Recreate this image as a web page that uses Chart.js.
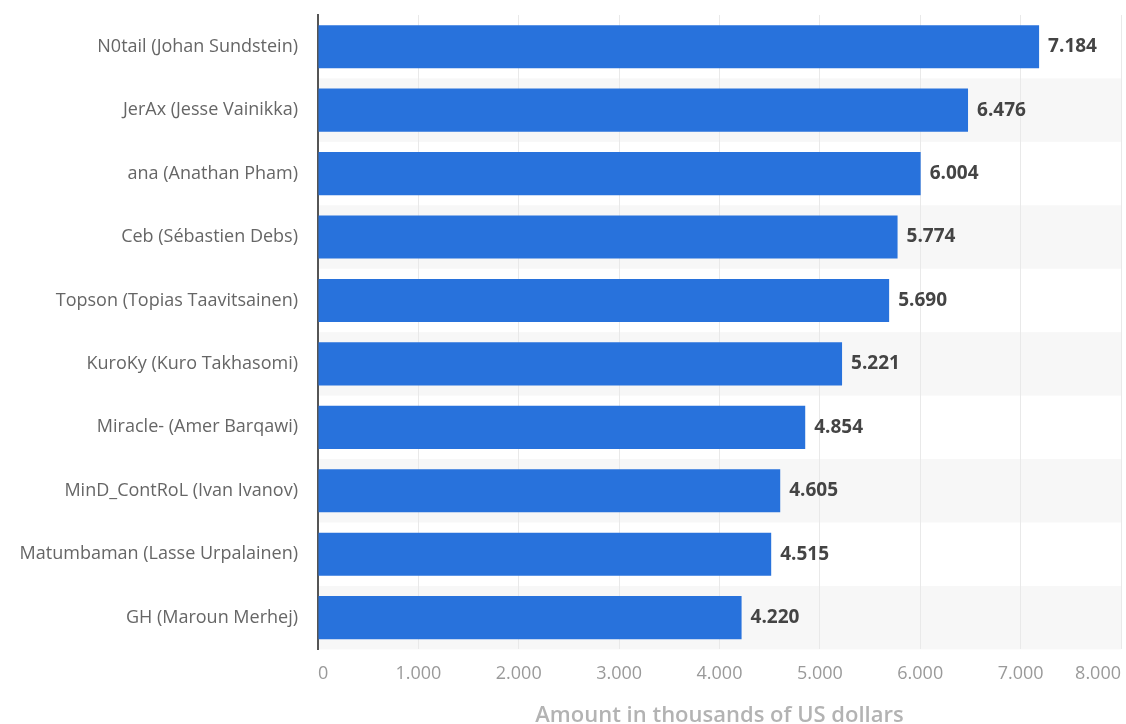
<!DOCTYPE html>
<html>
<head>
<meta charset="utf-8">
<script src="https://cdn.jsdelivr.net/npm/chart.js@4/dist/chart.umd.min.js"></script>
<style>
  html, body { margin: 0; padding: 0; background: #fff; overflow: hidden; }
  #wrap { width: 1126px; height: 724px; position: relative; }
</style>
</head>
<body>
<div id="wrap"><canvas id="chart"></canvas></div>
<script>
// players and their earnings (thousands of US dollars)
const players = [
    "N0tail (Johan Sundstein)",
    "JerAx (Jesse Vainikka)",
    "ana (Anathan Pham)",
    "Ceb (Sébastien Debs)",
    "Topson (Topias Taavitsainen)",
    "KuroKy (Kuro Takhasomi)",
    "Miracle- (Amer Barqawi)",
    "MinD_ContRoL (Ivan Ivanov)",
    "Matumbaman (Lasse Urpalainen)",
    "GH (Maroun Merhej)"
];
const earnings = [7184, 6476, 6004, 5774, 5690, 5221, 4854, 4605, 4515, 4220];
const axisMax = 8000;
const axisStep = 1000;
const axisTitle = "Amount in thousands of US dollars";

function fmt(v) {
    // thousands separator is a dot
    return String(Math.round(v)).replace(/\B(?=(\d{3})+(?!\d))/g, '.');
}

// light grey band behind every second row
const rowBands = {
    id: 'rowBands',
    beforeDraw(chart) {
        let ctx = chart.ctx;
        let area = chart.chartArea;
        let y = chart.scales.y;
        let h = (area.bottom - area.top) / players.length;
        ctx.save();
        ctx.fillStyle = '#f7f7f7';
        players.forEach((p, i) => {
            if (i % 2 === 1) {
                let c = y.getPixelForValue(i);
                ctx.fillRect(area.left, c - h / 2, area.right - area.left, h);
            }
        });
        ctx.restore();
    }
};

// value labels at the end of the bars
const valueLabels = {
    id: 'valueLabels',
    afterDatasetsDraw(chart) {
        let ctx = chart.ctx;
        let meta = chart.getDatasetMeta(0);
        ctx.save();
        ctx.font = 'bold 19px "Open Sans"';
        ctx.fillStyle = '#444444';
        ctx.textAlign = 'left';
        ctx.textBaseline = 'middle';
        meta.data.forEach((bar, i) => {
            ctx.fillText(fmt(earnings[i]), bar.x + 9, bar.y);
        });
        ctx.restore();
    }
};

new Chart(document.getElementById('chart'), {
    type: 'bar',
    data: {
        labels: players,
        datasets: [{
            data: earnings,
            backgroundColor: '#2872dc',
            borderWidth: 0,
            barPercentage: 0.68,
            categoryPercentage: 1
        }]
    },
    options: {
        indexAxis: 'y',
        responsive: true,
        maintainAspectRatio: false,
        animation: false,
        devicePixelRatio: 1,
        layout: {
            padding: { top: 15, right: 5, bottom: 0, left: 0 }
        },
        plugins: {
            legend: { display: false },
            tooltip: { enabled: false }
        },
        scales: {
            x: {
                min: 0,
                max: axisMax,
                afterFit(scale) { scale.paddingLeft = 0; scale.paddingRight = 0; },
                ticks: {
                    stepSize: axisStep,
                    align: 'inner',
                    padding: 14,
                    color: '#9a9a9a',
                    font: { family: '"Open Sans"', size: 18 },
                    callback: v => fmt(v)
                },
                grid: { color: '#e9e9e9', drawTicks: false },
                border: { display: false },
                title: {
                    display: true,
                    text: axisTitle,
                    color: '#b3b3b3',
                    font: { family: '"Open Sans"', size: 22, weight: '600', lineHeight: 1 },
                    padding: { top: 6, bottom: -3 }
                }
            },
            y: {
                afterFit(scale) {
                    scale.width = 318;
                    scale.paddingTop = 0;
                    scale.paddingBottom = 0;
                },
                ticks: {
                    padding: 20,
                    color: '#666666',
                    font: { family: '"Open Sans"', size: 18 }
                },
                grid: { display: false, drawTicks: false },
                border: { display: true, color: '#555555', width: 2 }
            }
        }
    },
    plugins: [rowBands, valueLabels]
});
</script>
</body>
</html>
